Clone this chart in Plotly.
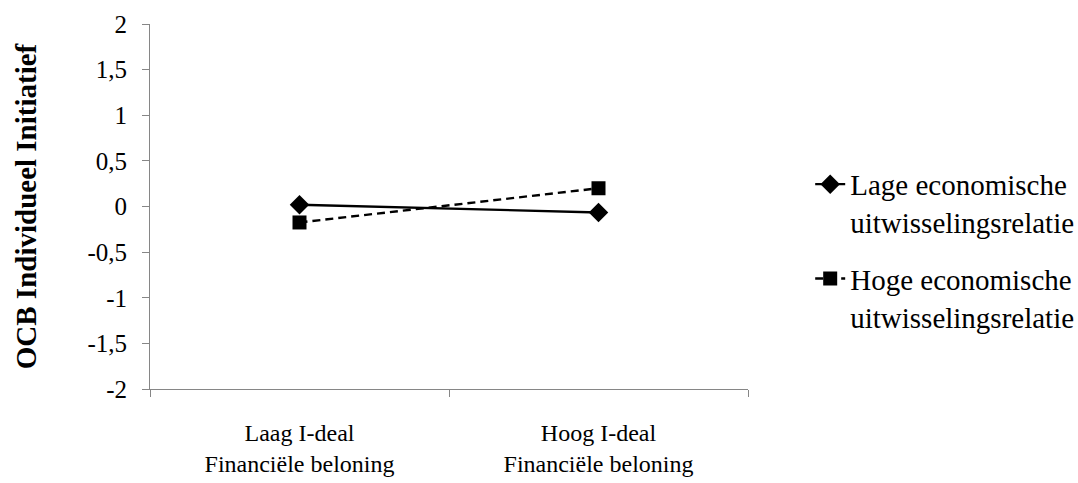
import plotly.graph_objects as go

categories = ["Laag I-deal<br>Financiële beloning", "Hoog I-deal<br>Financiële beloning"]
lage_values = [0.02, -0.065]
hoge_values = [-0.175, 0.2]
series_names = ["Lage economische<br>uitwisselingsrelatie", "Hoge economische<br>uitwisselingsrelatie"]
y_tick_vals = [2, 1.5, 1, 0.5, 0, -0.5, -1, -1.5, -2]
y_tick_text = ["2", "1,5", "1", "0,5", "0", "-0,5", "-1", "-1,5", "-2"]
y_title = "OCB Individueel Initiatief"

FONT = "Liberation Serif, Times New Roman, serif"
AXIS_COLOR = "#868686"

fig = go.Figure()
fig.add_trace(go.Scatter(
    x=categories, y=lage_values, name=series_names[0], mode="lines+markers",
    legendgroup="lage",
    line=dict(color="black", width=2.4, dash="solid"),
    marker=dict(symbol="diamond", size=15, color="black"),
))
fig.add_trace(go.Scatter(
    x=categories, y=hoge_values, name=series_names[1], mode="lines+markers",
    legendgroup="hoge",
    line=dict(color="black", width=2.4, dash="8px,5px"),
    marker=dict(symbol="square", size=14, color="black"),
))

fig.update_layout(
    width=1078, height=483,
    margin=dict(l=150, r=330, t=24, b=94, autoexpand=False),
    paper_bgcolor="white", plot_bgcolor="white",
    font=dict(family=FONT, color="black", size=24),
    showlegend=True,
    legend=dict(x=1.104, y=0.38, xanchor="left", yanchor="middle",
                font=dict(size=29, family=FONT), valign="top",
                tracegroupgap=16, bgcolor="rgba(0,0,0,0)"),
)
fig.update_xaxes(
    type="category", range=[-0.5, 1.5], tickson="boundaries", automargin=False,
    showline=True, linecolor=AXIS_COLOR, linewidth=1,
    ticks="outside", ticklen=7, tickcolor=AXIS_COLOR, tickwidth=1,
    showgrid=False, zeroline=False,
    tickfont=dict(size=24, family=FONT), ticklabelstandoff=22,
)
fig.update_yaxes(
    range=[-2, 2], tickvals=y_tick_vals, ticktext=y_tick_text, automargin=False,
    showline=True, linecolor=AXIS_COLOR, linewidth=1,
    ticks="outside", ticklen=7, tickcolor=AXIS_COLOR, tickwidth=1,
    showgrid=False, zeroline=False,
    tickfont=dict(size=25, family=FONT), ticklabelstandoff=10,
    title=dict(text="<b>" + y_title + "</b>", font=dict(size=29, family=FONT), standoff=42),
)

fig.write_html(
    "out.html",
    config={"displayModeBar": False},
    post_script="document.body.style.margin='0';document.body.style.overflow='hidden';",
)
